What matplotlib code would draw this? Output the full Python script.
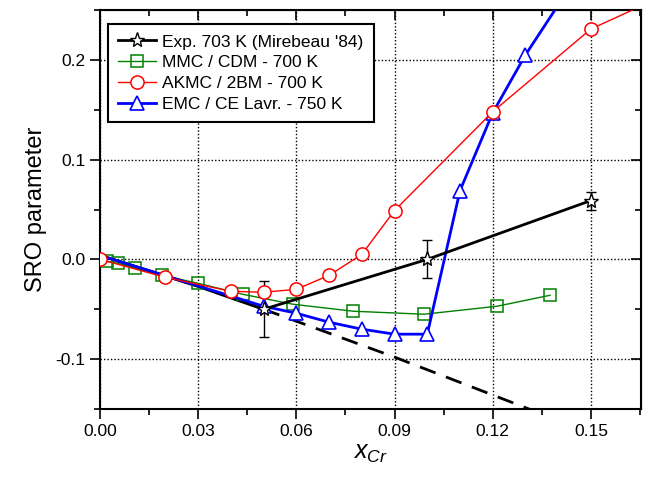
import matplotlib
matplotlib.use("Agg")
import matplotlib.pyplot as plt
from matplotlib.ticker import MultipleLocator, FormatStrFormatter

plt.rcParams['font.family'] = ['Liberation Sans', 'DejaVu Sans']
plt.rcParams['mathtext.fontset'] = 'custom'
plt.rcParams['mathtext.it'] = 'Liberation Sans:italic'
plt.rcParams['mathtext.rm'] = 'Liberation Sans'
plt.rcParams['axes.unicode_minus'] = False

# Experiment (Mirebeau '84)
exp_x = [0.05, 0.10, 0.15]
exp_y = [-0.050, 0.000, 0.059]
exp_err = [0.028, 0.019, 0.009]

# Theoretical linear trend (solid where valid, dashed beyond)
th_solid_x = [0.0, 0.03, 0.05]
th_solid_y = [0.004, -0.027, -0.050]
th_dash_x = [0.05, 0.09, 0.12, 0.135]
th_dash_y = [-0.050, -0.098, -0.136, -0.155]

# MMC / CDM - 700 K
mmc_x = [0.002, 0.0055, 0.0107, 0.019, 0.030, 0.0436, 0.059, 0.0774, 0.099, 0.1213, 0.1375]
mmc_y = [-0.002, -0.004, -0.009, -0.016, -0.024, -0.035, -0.045, -0.052, -0.055, -0.047, -0.036]

# AKMC / 2BM - 700 K
akmc_x = [0.0, 0.02, 0.04, 0.05, 0.06, 0.07, 0.08, 0.09, 0.12, 0.15, 0.18]
akmc_y = [0.000, -0.018, -0.032, -0.033, -0.030, -0.016, 0.005, 0.049, 0.148, 0.231, 0.276]

# EMC / CE Lavr. - 750 K
emc_x = [0.0, 0.05, 0.06, 0.07, 0.08, 0.09, 0.10, 0.11, 0.12, 0.13, 0.145]
emc_y = [0.004, -0.047, -0.054, -0.063, -0.070, -0.075, -0.075, 0.069, 0.147, 0.205, 0.280]

fig = plt.figure(figsize=(6.48, 4.78), dpi=100)
ax = fig.add_axes([0.1543, 0.1444, 0.8349, 0.8346])

ax.plot(th_dash_x, th_dash_y, color='black', lw=2, ls=(0, (6, 4)), zorder=2)
ax.plot(th_solid_x, th_solid_y, color='black', lw=2.2, zorder=2)

ax.errorbar(exp_x, exp_y, yerr=exp_err, fmt='none', ecolor='black', elinewidth=1,
            capsize=3.5, capthick=1, zorder=3)
l_exp, = ax.plot(exp_x, exp_y, color='black', lw=2, marker='*', ms=11,
                 mfc='white', mec='black', mew=1, zorder=6,
                 label="Exp. 703 K (Mirebeau '84)")
l_mmc, = ax.plot(mmc_x, mmc_y, color='green', lw=1, marker='s', ms=8,
                 mfc='none', mec='green', mew=1.1, zorder=3,
                 label='MMC / CDM - 700 K')
l_emc, = ax.plot(emc_x, emc_y, color='blue', lw=2, marker='^', ms=10,
                 mfc='white', mec='blue', mew=1.2, zorder=4,
                 markevery=list(range(1, len(emc_x))),
                 label='EMC / CE Lavr. - 750 K')
l_akmc, = ax.plot(akmc_x, akmc_y, color='red', lw=1, marker='o', ms=9.5,
                  mfc='white', mec='red', mew=1.1, zorder=5,
                  label='AKMC / 2BM - 700 K')

ax.set_xlim(0, 0.1653)
ax.set_ylim(-0.15, 0.25)
ax.xaxis.set_major_locator(MultipleLocator(0.03))
ax.xaxis.set_minor_locator(MultipleLocator(0.015))
ax.yaxis.set_major_locator(MultipleLocator(0.1))
ax.yaxis.set_minor_locator(MultipleLocator(0.05))
ax.xaxis.set_major_formatter(FormatStrFormatter('%.2f'))
ax.yaxis.set_major_formatter(FormatStrFormatter('%.1f'))

ax.grid(True, which='major', color='black', ls=(0, (1, 1.5)), lw=1)
ax.tick_params(which='major', direction='out', length=7, width=1.2, labelsize=12.5,
               top=False, right=False)
ax.tick_params(which='minor', direction='out', length=4, width=1.2, top=False, right=False)
for s in ax.spines.values():
    s.set_linewidth(1.5)

# inward ticks on top and right
sx = ax.secondary_xaxis('top')
sx.xaxis.set_major_locator(MultipleLocator(0.03))
sx.xaxis.set_minor_locator(MultipleLocator(0.015))
sx.tick_params(which='major', direction='in', length=7, width=1.2, labeltop=False)
sx.tick_params(which='minor', direction='in', length=4, width=1.2)
sy = ax.secondary_yaxis('right')
sy.yaxis.set_major_locator(MultipleLocator(0.1))
sy.yaxis.set_minor_locator(MultipleLocator(0.05))
sy.tick_params(which='major', direction='in', length=7, width=1.2, labelright=False)
sy.tick_params(which='minor', direction='in', length=4, width=1.2)

ax.set_ylabel('SRO parameter', fontsize=17, labelpad=6)
ax.set_xlabel(r'$x_{Cr}$', fontsize=18, labelpad=2)

leg = ax.legend(handles=[l_exp, l_mmc, l_akmc, l_emc], loc='upper left',
                bbox_to_anchor=(0.014, 0.965), borderaxespad=0, fontsize=12.5,
                fancybox=False, framealpha=1, edgecolor='black',
                handlelength=2.2, handletextpad=0.35, labelspacing=0.32,
                borderpad=0.6)
leg.get_frame().set_linewidth(1.5)

fig.savefig('out.png', dpi=100)
